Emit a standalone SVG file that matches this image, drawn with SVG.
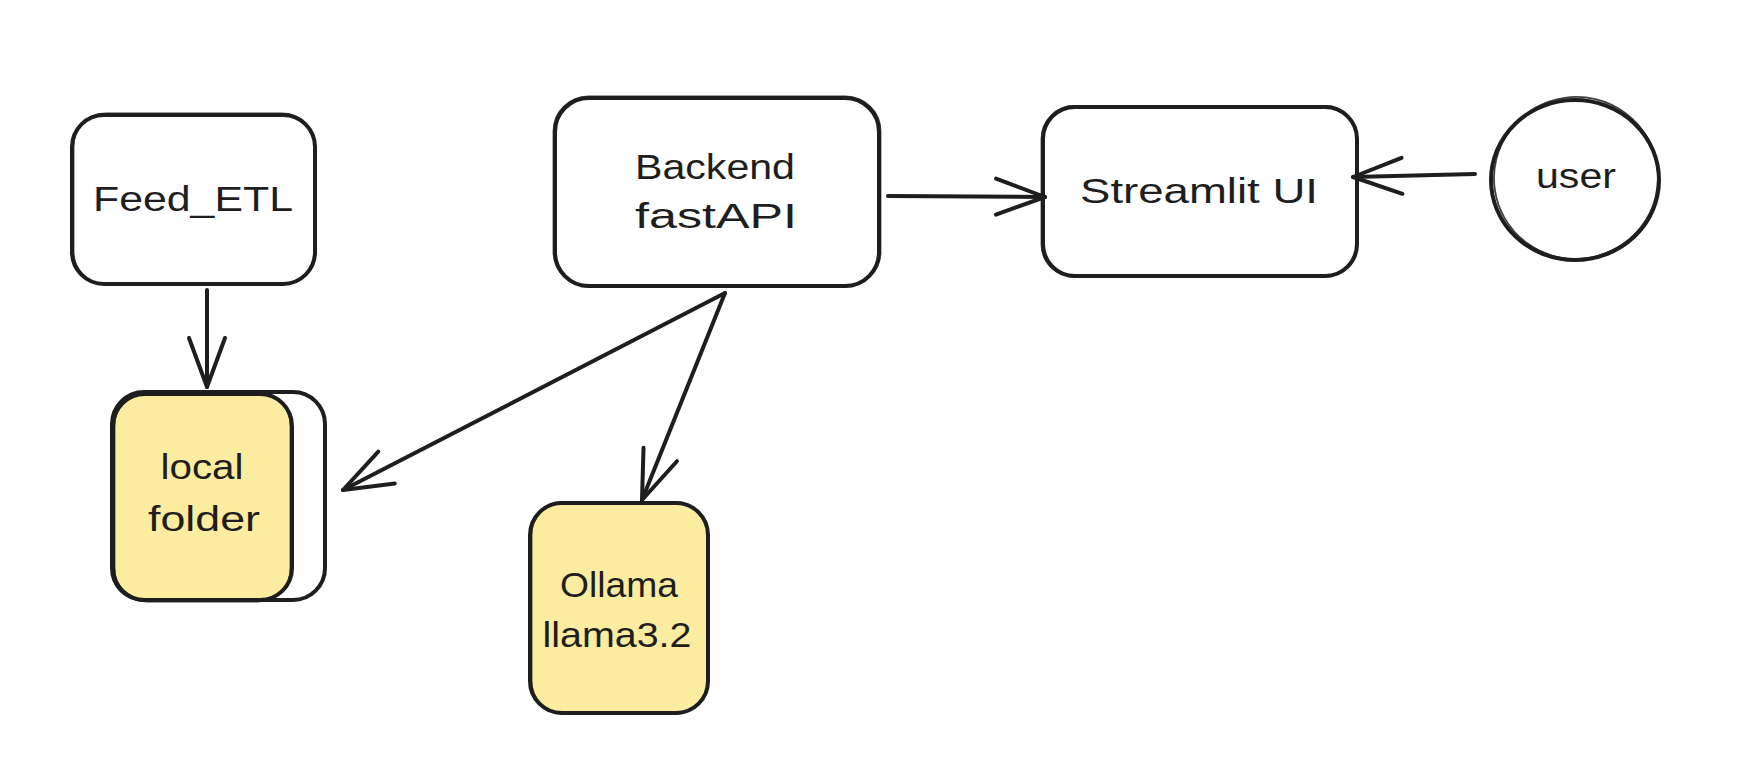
<svg xmlns="http://www.w3.org/2000/svg" width="1762" height="768" viewBox="0 0 1762 768">
<defs>
<marker id="arr" markerUnits="userSpaceOnUse" viewBox="-55 -25 60 50" refX="0" refY="0" markerWidth="60" markerHeight="50" orient="auto" overflow="visible">
<path d="M-49,-18 L0,0 L-49,18" fill="none" stroke="#1e1e1e" stroke-width="4" stroke-linecap="round" stroke-linejoin="round"/>
</marker>
<style>
.box{fill:#ffffff;stroke:#1e1e1e;stroke-width:4;stroke-linejoin:round}
.yel{fill:#fcec9f;stroke:#1e1e1e;stroke-width:4;stroke-linejoin:round}
.sk{fill:none;stroke:#1e1e1e;stroke-width:1.8;opacity:0.85}
.lbl{font-family:"Liberation Sans","DejaVu Sans",sans-serif;font-size:35px;fill:#1e1e1e;text-anchor:middle}
.con{fill:none;stroke:#1e1e1e;stroke-width:4;stroke-linecap:round;marker-end:url(#arr)}
</style>
</defs>
<rect width="1762" height="768" fill="#ffffff"/>

<g id="feed_etl">
<rect class="box" x="72" y="115" width="243" height="169" rx="32"/>
<rect class="sk" x="73.5" y="113.5" width="241" height="171" rx="33"/>
<text class="lbl" x="193" y="211" textLength="200" lengthAdjust="spacingAndGlyphs">Feed_ETL</text>
</g>

<g id="local_folder">
<rect class="box" x="112" y="392" width="213" height="208" rx="32"/>
<rect class="yel" x="113" y="394" width="179" height="206" rx="32"/>
<rect class="sk" x="114.5" y="392.5" width="176" height="209" rx="33"/>
<text class="lbl" x="202" y="479" textLength="83" lengthAdjust="spacingAndGlyphs">local</text>
<text class="lbl" x="204" y="531" textLength="112" lengthAdjust="spacingAndGlyphs">folder</text>
</g>

<g id="backend">
<rect class="box" x="555" y="98" width="324" height="188" rx="34"/>
<rect class="sk" x="553.5" y="96.5" width="327" height="190" rx="35"/>
<text class="lbl" x="715" y="179" textLength="160" lengthAdjust="spacingAndGlyphs">Backend</text>
<text class="lbl" x="716" y="228" textLength="162" lengthAdjust="spacingAndGlyphs">fastAPI</text>
</g>

<g id="streamlit_ui">
<rect class="box" x="1043" y="107" width="314" height="169" rx="32"/>
<rect class="sk" x="1041.5" y="106" width="316" height="171" rx="33"/>
<text class="lbl" x="1199" y="203" textLength="238" lengthAdjust="spacingAndGlyphs">Streamlit UI</text>
</g>

<g id="user">
<ellipse class="box" cx="1575" cy="180" rx="84" ry="80"/>
<ellipse class="sk" cx="1576" cy="178" rx="82" ry="81" transform="rotate(-8 1576 178)"/>
<text class="lbl" x="1576" y="188" textLength="80" lengthAdjust="spacingAndGlyphs">user</text>
</g>

<g id="ollama">
<rect class="yel" x="530" y="503" width="178" height="210" rx="32"/>
<rect class="sk" x="531.5" y="502" width="176" height="212" rx="33"/>
<text class="lbl" x="619" y="597" textLength="118" lengthAdjust="spacingAndGlyphs">Ollama</text>
<text class="lbl" x="617" y="647" textLength="149" lengthAdjust="spacingAndGlyphs">llama3.2</text>
</g>

<g id="connectors">
<path class="con" d="M207,290 L207,387"/>
<path class="con" d="M725,293 L343,490"/>
<path class="con" d="M725,293 L642,500"/>
<path class="con" d="M888,196 L1045,197"/>
<path class="con" d="M1475,174 L1353,177"/>
</g>
</svg>
